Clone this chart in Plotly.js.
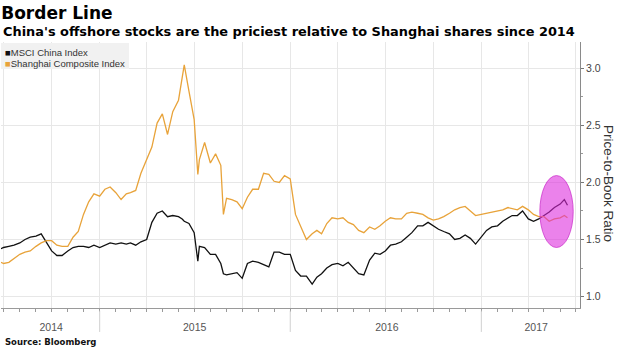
<!DOCTYPE html>
<html>
<head>
<meta charset="utf-8">
<script src="https://cdn.plot.ly/plotly-3.0.1.min.js"></script>
<style>
html,body{margin:0;padding:0;background:#fff;}
#chart{width:620px;height:348px;}
</style>
</head>
<body>
<div id="chart"></div>
<script>
const dates = [
'2014-06-26','2014-07-01','2014-07-11','2014-07-21','2014-08-01','2014-08-11','2014-08-21','2014-09-01','2014-09-11','2014-09-21',
'2014-10-01','2014-10-11','2014-10-21','2014-11-01','2014-11-11','2014-11-21','2014-12-01','2014-12-11','2014-12-21',
'2015-01-01','2015-01-11','2015-01-21','2015-02-01','2015-02-11','2015-02-21','2015-03-01','2015-03-11','2015-03-21',
'2015-04-01','2015-04-11','2015-04-21','2015-05-01','2015-05-11','2015-05-21','2015-06-01','2015-06-08','2015-06-12','2015-06-21',
'2015-07-01','2015-07-08','2015-07-11','2015-07-21','2015-08-01','2015-08-11','2015-08-21','2015-08-26','2015-09-01','2015-09-11','2015-09-21',
'2015-10-01','2015-10-11','2015-10-21','2015-11-01','2015-11-11','2015-11-21','2015-12-01','2015-12-11','2015-12-21',
'2016-01-01','2016-01-11','2016-01-21','2016-02-01','2016-02-12','2016-02-21','2016-03-01','2016-03-11','2016-03-21',
'2016-04-01','2016-04-11','2016-04-21','2016-05-01','2016-05-11','2016-05-21','2016-06-01','2016-06-11','2016-06-21',
'2016-07-01','2016-07-11','2016-07-21','2016-08-01','2016-08-11','2016-08-21','2016-09-01','2016-09-11','2016-09-21',
'2016-10-01','2016-10-11','2016-10-21','2016-11-01','2016-11-11','2016-11-21','2016-12-01','2016-12-11','2016-12-21',
'2017-01-01','2017-01-11','2017-01-21','2017-02-01','2017-02-11','2017-02-21','2017-03-01','2017-03-11','2017-03-21',
'2017-04-01','2017-04-11','2017-04-21','2017-05-01','2017-05-11','2017-05-21','2017-06-01','2017-06-09','2017-06-15'
];

const msciChina = [
1.42,1.43,1.44,1.45,1.47,1.50,1.52,1.53,1.55,1.48,
1.40,1.36,1.36,1.40,1.43,1.44,1.44,1.43,1.45,
1.43,1.45,1.47,1.46,1.47,1.46,1.47,1.45,1.48,
1.50,1.65,1.73,1.75,1.70,1.71,1.70,1.68,1.66,1.64,
1.56,1.31,1.44,1.43,1.37,1.37,1.29,1.20,1.19,1.20,1.21,
1.16,1.29,1.31,1.30,1.28,1.26,1.39,1.39,1.37,
1.37,1.23,1.18,1.18,1.11,1.17,1.20,1.25,1.28,
1.29,1.27,1.30,1.25,1.20,1.19,1.32,1.38,1.37,
1.40,1.45,1.46,1.48,1.52,1.56,1.62,1.62,1.65,
1.62,1.59,1.57,1.55,1.50,1.51,1.54,1.51,1.46,
1.52,1.58,1.61,1.62,1.66,1.69,1.71,1.71,1.75,
1.68,1.66,1.68,1.71,1.74,1.78,1.81,1.85,1.80
];

const shanghaiComposite = [
1.30,1.29,1.30,1.33,1.37,1.39,1.40,1.44,1.47,1.49,
1.49,1.45,1.44,1.44,1.52,1.57,1.72,1.83,1.90,
1.88,1.94,1.96,1.91,1.85,1.90,1.91,1.93,2.08,
2.20,2.31,2.52,2.60,2.42,2.62,2.72,2.94,3.03,2.80,
2.55,2.07,2.20,2.35,2.17,2.25,2.15,1.72,1.86,1.85,1.83,
1.77,1.87,1.94,1.94,2.08,2.07,2.01,2.00,2.06,
2.03,1.72,1.62,1.50,1.55,1.58,1.55,1.64,1.69,
1.68,1.69,1.65,1.63,1.58,1.56,1.61,1.59,1.62,
1.66,1.69,1.68,1.68,1.73,1.74,1.73,1.72,1.69,
1.67,1.68,1.70,1.73,1.76,1.78,1.79,1.75,1.71,
1.72,1.73,1.74,1.75,1.76,1.78,1.77,1.76,1.79,
1.76,1.72,1.70,1.70,1.66,1.68,1.69,1.71,1.69
];

const seriesNames = ['MSCI China Index', 'Shanghai Composite Index'];
const yearLabels = ['2014', '2015', '2016', '2017'];
const yearLabelDates = ['2014-09-30', '2015-07-02', '2016-07-04', '2017-04-16'];
const yearBoundaries = ['2015-01-01', '2016-01-01', '2017-01-01'];
const highlightX = ['2017-04-23', '2017-06-26'];
const highlightY = [1.43, 2.06];

const BLACK = '#111111';
const ORANGE = '#e8a33a';
const seriesColors = [BLACK, ORANGE];
const xRange = ['2014-06-26', '2017-07-09'];

const traces = [
  {x: dates, y: msciChina, type: 'scatter', mode: 'lines', name: seriesNames[0],
   line: {color: BLACK, width: 1.3}, showlegend: false},
  {x: dates, y: shanghaiComposite, type: 'scatter', mode: 'lines', name: seriesNames[1],
   line: {color: ORANGE, width: 1.3}, showlegend: false},
  {x: xRange, y: [null, null], xaxis: 'x2', yaxis: 'y', type: 'scatter', mode: 'lines', showlegend: false, hoverinfo: 'skip'}
];

const PW = 579, PH = 266, PT = 42;
const py = p => (PT + PH - p) / PH;

const shapes = yearBoundaries.map(d => ({
  type: 'line', xref: 'x', yref: 'paper', x0: d, x1: d, y0: -0.01, y1: -0.09,
  line: {color: '#d0d0d0', width: 1}
}));
// legend box
shapes.push({type: 'rect', xref: 'paper', yref: 'paper', x0: 0, x1: 128/PW, y0: py(69), y1: py(43),
  fillcolor: '#f1f1f1', line: {width: 0}, layer: 'above'});
shapes.push({
  type: 'circle', xref: 'x', yref: 'y', layer: 'above',
  x0: highlightX[0], x1: highlightX[1], y0: highlightY[0], y1: highlightY[1],
  fillcolor: 'rgba(220,40,220,0.58)', line: {color: 'rgba(200,40,200,0.7)', width: 1}
});

const legendAnnotations = seriesNames.map((n, i) => ({
  text: '<span style="color:' + seriesColors[i] + '">■</span>' + n,
  xref: 'paper', yref: 'paper', x: 2/PW, y: py(53 + 10*i), xanchor: 'left', yanchor: 'middle',
  showarrow: false, font: {family: 'Liberation Sans, Arial, sans-serif', size: 9.5, color: '#333'}
}));

const layout = {
  width: 620, height: 348,
  margin: {l: 1, r: 40, t: 42, b: 40},
  paper_bgcolor: '#ffffff', plot_bgcolor: '#ffffff',
  font: {family: 'Liberation Sans, Arial, sans-serif', color: '#444'},
  title: {
    text: '<b>Border Line</b>', x: 0.002, xref: 'container', xanchor: 'left',
    y: 1 - 13/348, yref: 'container', yanchor: 'middle',
    font: {family: 'DejaVu Sans, sans-serif', size: 17, color: '#000'}
  },
  showlegend: false,
  xaxis: {
    type: 'date', range: xRange,
    tickmode: 'array', tickvals: yearLabelDates, ticktext: yearLabels,
    ticks: '', showgrid: false, zeroline: false,
    ticklabelstandoff: 9,
    tickfont: {family: 'Liberation Sans, Arial, sans-serif', size: 10.5, color: '#555'},
    showline: true, linecolor: '#9a9a9a', linewidth: 1,
    minor: {dtick: 'M3', tick0: '2014-01-01', showgrid: true, gridcolor: '#e7e7e7', gridwidth: 1, ticks: ''}
  },
  xaxis2: {
    type: 'date', range: xRange, overlaying: 'x', side: 'bottom', anchor: 'y',
    showgrid: false, zeroline: false, showticklabels: false,
    dtick: 'M1', tick0: '2014-01-01', ticks: 'outside', ticklen: 3, tickcolor: '#9a9a9a', tickwidth: 1
  },
  yaxis: {
    side: 'right', range: [0.9, 3.23], dtick: 0.5, tick0: 1.0, tickformat: '.1f',
    showgrid: true, gridcolor: '#e7e7e7', gridwidth: 1, zeroline: false,
    ticks: 'outside', ticklen: 3, tickcolor: '#777', tickwidth: 1,
    minor: {dtick: 0.25, ticks: 'outside', ticklen: 2, tickcolor: '#999', showgrid: false},
    showline: true, linecolor: '#8a8a8a', linewidth: 1,
    tickfont: {family: 'Liberation Sans, Arial, sans-serif', size: 10.5, color: '#444'}
  },
  shapes: shapes,
  annotations: [
    {text: "<b>China's offshore stocks are the priciest relative to Shanghai shares since 2014</b>",
     xref: 'paper', yref: 'paper', x: 0, y: py(32), xanchor: 'left', yanchor: 'middle', showarrow: false,
     font: {family: 'DejaVu Sans, sans-serif', size: 12.9, color: '#000'}},
    {text: '<b>Source: Bloomberg</b>', xref: 'paper', yref: 'paper', x: 0.004, y: py(342),
     xanchor: 'left', yanchor: 'middle', showarrow: false,
     font: {family: 'DejaVu Sans, sans-serif', size: 8.5, color: '#111'}},
    {text: 'Price-to-Book Ratio', xref: 'paper', yref: 'paper', x: 608/PW, y: py(183),
     xanchor: 'center', yanchor: 'middle', textangle: 90, showarrow: false,
     font: {family: 'Liberation Sans, Arial, sans-serif', size: 13.5, color: '#333'}}
  ].concat(legendAnnotations)
};

Plotly.newPlot('chart', traces, layout, {displayModeBar: false, staticPlot: true});
</script>
</body>
</html>
